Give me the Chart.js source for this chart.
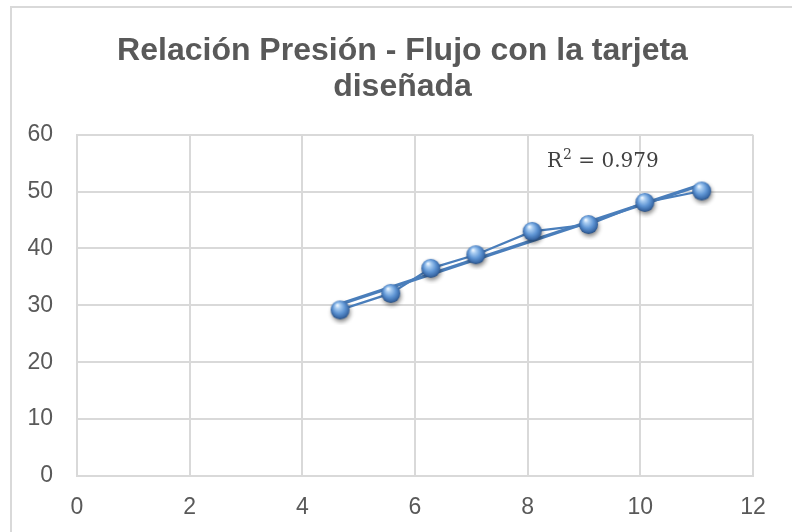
<!DOCTYPE html>
<html>
<head>
<meta charset="utf-8">
<script src="https://cdn.jsdelivr.net/npm/chart.js@4/dist/chart.umd.min.js"></script>
<style>
  html, body { margin: 0; padding: 0; background: #ffffff; }
  canvas { display: block; }
</style>
</head>
<body>
<canvas id="c" width="792" height="532"></canvas>
<script>
// Flow (x) against pressure (y) measured with the designed board
const flujo   = [4.67, 5.57, 6.28, 7.08, 8.08, 9.08, 10.08, 11.09];
const presion = [29.2, 32.1, 36.5, 38.9, 43.0, 44.2, 48.1, 50.1];
const xTicks  = [0, 2, 4, 6, 8, 10, 12];
const yTicks  = [0, 10, 20, 30, 40, 50, 60];
const titleLines = ['Relación Presión - Flujo con la tarjeta', 'diseñada'];
const r2Value = '0.979';

const BLUE = '#4a7ebb';
const GRID = '#d9d9d9';
const TEXT = '#595959';
const SANS = '"Liberation Sans", Arial, Helvetica, sans-serif';
const SERIF = '"DejaVu Serif", "Liberation Serif", serif';

// Least-squares linear trendline over the measured points
function linearFit(xs, ys) {
  const n = xs.length;
  const mx = xs.reduce((a, b) => a + b, 0) / n;
  const my = ys.reduce((a, b) => a + b, 0) / n;
  let sxy = 0, sxx = 0;
  for (let i = 0; i < n; i++) {
    sxy += (xs[i] - mx) * (ys[i] - my);
    sxx += (xs[i] - mx) * (xs[i] - mx);
  }
  const slope = sxy / sxx;
  return { slope, intercept: my - slope * mx };
}
const fit = linearFit(flujo, presion);
const xMin = Math.min(...flujo), xMax = Math.max(...flujo);
const trend = [xMin, xMax].map(x => ({ x, y: fit.intercept + fit.slope * x }));
const points = flujo.map((x, i) => ({ x, y: presion[i] }));

// Shaded sphere used as the marker image
function makeSphere(r) {
  const pad = 6, s = 2 * (r + pad);
  const cv = document.createElement('canvas');
  cv.width = s; cv.height = s;
  const g = cv.getContext('2d');
  const c = s / 2;
  g.save();
  g.shadowColor = 'rgba(0,0,0,0.45)';
  g.shadowBlur = 4;
  g.shadowOffsetX = 1;
  g.shadowOffsetY = 2.5;
  const grad = g.createRadialGradient(c - r * 0.3, c - r * 0.5, r * 0.05, c, c - r * 0.1, r * 1.05);
  grad.addColorStop(0, '#eef6ff');
  grad.addColorStop(0.22, '#a9cdf2');
  grad.addColorStop(0.6, '#5f95d4');
  grad.addColorStop(0.9, '#3a6aa8');
  grad.addColorStop(1, '#2b5388');
  g.fillStyle = grad;
  g.beginPath();
  g.arc(c, c, r, 0, Math.PI * 2);
  g.fill();
  g.restore();
  return cv;
}
const sphere = makeSphere(9.5);

// Outer frame of the chart box
const framePlugin = {
  id: 'frame',
  beforeDraw(chart) {
    const ctx = chart.ctx;
    ctx.save();
    ctx.strokeStyle = GRID;
    ctx.lineWidth = 2;
    ctx.beginPath();
    ctx.moveTo(11, chart.height + 2);
    ctx.lineTo(11, 7);
    ctx.lineTo(chart.width + 2, 7);
    ctx.stroke();
    ctx.restore();
  }
};

// R² annotation of the trendline
const r2Plugin = {
  id: 'r2',
  afterDraw(chart) {
    const ctx = chart.ctx;
    ctx.save();
    ctx.fillStyle = '#404040';
    ctx.textAlign = 'left';
    ctx.textBaseline = 'alphabetic';
    let x = 547;
    const base = 167;
    ctx.font = '20px ' + SERIF;
    ctx.fillText('R', x, base);
    x += ctx.measureText('R').width + 1;
    ctx.font = '14px ' + SERIF;
    ctx.fillText('2', x, base - 8);
    x += ctx.measureText('2').width;
    ctx.font = '20px ' + SERIF;
    ctx.fillText(' = ' + r2Value, x, base);
    ctx.restore();
  }
};

new Chart(document.getElementById('c'), {
  type: 'scatter',
  data: {
    datasets: [
      {
        label: 'Puntos',
        data: points,
        showLine: false,
        pointStyle: sphere,
        pointRadius: 10,
        order: 0
      },
      {
        label: 'Lineal',
        data: trend,
        showLine: true,
        borderColor: BLUE,
        borderWidth: 3.5,
        pointRadius: 0,
        order: 1
      },
      {
        label: 'Presión',
        data: points,
        showLine: true,
        borderColor: BLUE,
        borderWidth: 2.2,
        pointRadius: 0,
        order: 2
      }
    ]
  },
  options: {
    responsive: false,
    animation: false,
    layout: { padding: { left: 13, right: 0, top: 0, bottom: 0 } },
    plugins: {
      legend: { display: false },
      tooltip: { enabled: false },
      title: {
        display: true,
        text: titleLines,
        color: TEXT,
        font: { family: SANS, size: 32, weight: 'bold', lineHeight: 1.12 },
        padding: { top: 33, bottom: 30 }
      }
    },
    scales: {
      x: {
        type: 'linear',
        min: 0,
        max: 12,
        afterBuildTicks(scale) { scale.ticks = xTicks.map(v => ({ value: v })); },
        afterFit(scale) { scale.height = 56; },
        grid: { color: GRID, lineWidth: 2, drawTicks: false },
        border: { color: GRID, width: 2 },
        ticks: { color: TEXT, font: { family: SANS, size: 23 }, padding: 18, maxRotation: 0 }
      },
      y: {
        type: 'linear',
        min: 0,
        max: 60,
        afterBuildTicks(scale) { scale.ticks = yTicks.map(v => ({ value: v })); },
        afterFit(scale) { scale.width = 64; },
        grid: { color: GRID, lineWidth: 2, drawTicks: false },
        border: { color: GRID, width: 2 },
        ticks: { color: TEXT, font: { family: SANS, size: 23 }, padding: 24 }
      },
      yRight: {
        type: 'linear',
        position: 'right',
        min: 0,
        max: 60,
        afterFit(scale) { scale.width = 39; },
        grid: { display: false, drawTicks: false },
        border: { display: false },
        ticks: { display: false }
      }
    }
  },
  plugins: [framePlugin, r2Plugin]
});
</script>
</body>
</html>
